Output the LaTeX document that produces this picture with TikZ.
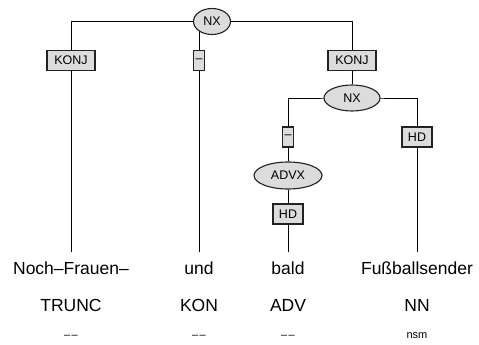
\documentclass[tikz,border=0pt]{standalone}
\usepackage{fontspec}
\setmainfont{Liberation Sans}
\usetikzlibrary{shapes.geometric,backgrounds}
\definecolor{boxfill}{HTML}{DCDCDC}
\definecolor{edgecol}{HTML}{222222}
\begin{document}
\begin{tikzpicture}[x=1pt,y=-1pt,
  cat/.style={ellipse,draw=edgecol,line width=1.1pt,fill=boxfill,inner sep=0pt,font=\fontsize{12.5}{12.5}\selectfont},
  fn/.style={rectangle,draw=edgecol,line width=1.1pt,fill=boxfill,inner sep=0pt,minimum height=20pt,font=\fontsize{12.5}{12.5}\selectfont},
  word/.style={anchor=north,inner xsep=0pt,inner ysep=9.5pt,text height=12.5pt,text depth=0pt,font=\fontsize{17.5}{17.5}\selectfont},
  postag/.style={inner sep=0pt,font=\fontsize{17.5}{17.5}\selectfont},
  morph/.style={inner sep=0pt,font=\fontsize{11}{11}\selectfont},
  link/.style={line width=0.9pt,black}]
\useasboundingbox (0,0) rectangle (479,345);
% nodes
\node[cat,minimum width=37pt,minimum height=26pt] (nx1) at (212,21.5) {NX};
\node[fn,minimum width=48pt] (k1) at (71,60.5) {KONJ};
\node[fn,minimum width=11pt] (d1) at (199,60.5) {–};
\node[fn,minimum width=48pt] (k2) at (352,60.5) {KONJ};
\node[cat,minimum width=56pt,minimum height=26pt] (nx2) at (352,98) {NX};
\node[fn,minimum width=11pt] (d2) at (288,137) {–};
\node[fn,minimum width=30pt] (h2) at (417,137) {HD};
\node[cat,minimum width=68pt,minimum height=27pt] (advx) at (288,175.5) {ADVX};
\node[fn,minimum width=30pt] (h3) at (288,214) {HD};
\node[word] (w1) at (71,252) {Noch–Frauen–};
\node[word] (w2) at (199,252) {und};
\node[word] (w3) at (288,252) {bald};
\node[word] (w4) at (417,252) {Fußballsender};
\node[postag] (p1) at (71,305) {TRUNC};
\node[postag] (p2) at (199,305) {KON};
\node[postag] (p3) at (288,305) {ADV};
\node[postag] (p4) at (417,305) {NN};
\node[morph] (m1) at (71,337) {–\kern1.5pt–};
\node[morph] (m2) at (199,337) {–\kern1.5pt–};
\node[morph] (m3) at (288,337) {–\kern1.5pt–};
\node[morph] (m4) at (417,336) {nsm};
% connectors
\begin{scope}[on background layer]
\draw[link] (k1.north) |- (nx1.center) -| (k2.north);
\draw[link] (d1.north) -- (d1.north |- nx1.center);
\draw[link] (k1.south) -- (w1.north);
\draw[link] (d1.south) -- (w2.north);
\draw[link] (k2.south) -- (nx2.north);
\draw[link] (d2.north) |- (nx2.center) -| (h2.north);
\draw[link] (d2.south) -- (advx.north);
\draw[link] (advx.south) -- (h3.north);
\draw[link] (h3.south) -- (w3.north);
\draw[link] (h2.south) -- (w4.north);
\end{scope}
\end{tikzpicture}
\end{document}
